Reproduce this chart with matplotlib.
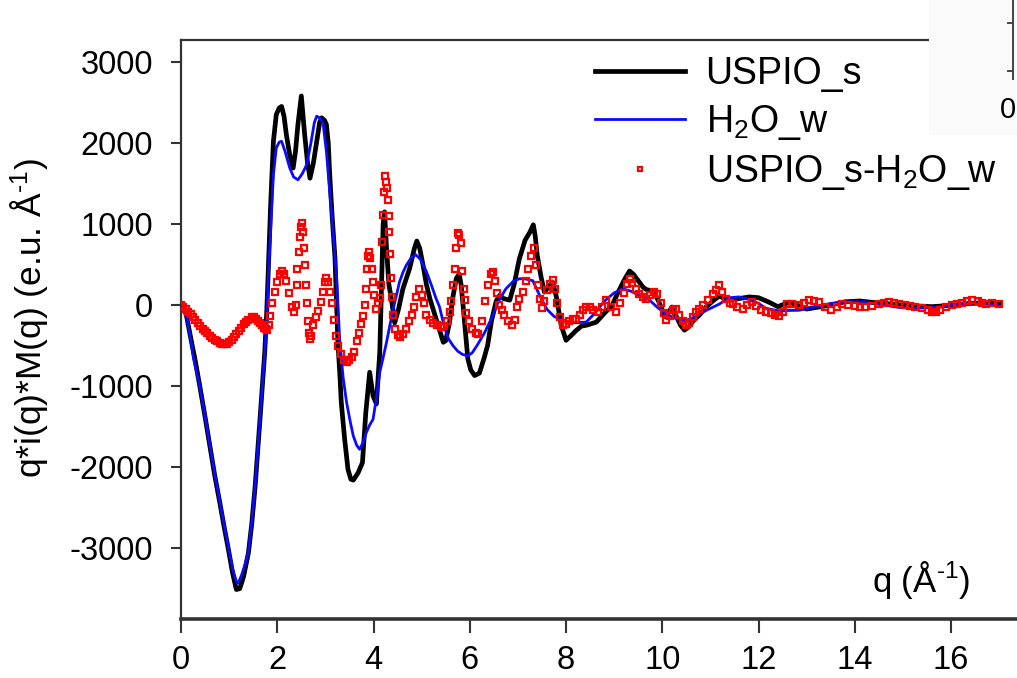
import numpy as np
import matplotlib
matplotlib.use('Agg')
import matplotlib.pyplot as plt

plt.rcParams['font.family'] = ['Liberation Sans', 'DejaVu Sans']
plt.rcParams['mathtext.fontset'] = 'custom'
plt.rcParams['mathtext.rm'] = 'Liberation Sans'
plt.rcParams['mathtext.it'] = 'Liberation Sans'
plt.rcParams['axes.unicode_minus'] = False

# USPIO_s (black line)
q_s = [0.05, 0.12, 0.2, 0.3, 0.39, 0.5, 0.6, 0.7, 0.81, 0.9, 0.98, 1.07, 1.15, 1.22, 1.3,
       1.4, 1.47, 1.54, 1.64, 1.74, 1.78, 1.81, 1.86, 1.92, 1.98, 2.04, 2.09, 2.14, 2.19,
       2.26, 2.33, 2.38, 2.43, 2.5, 2.57, 2.63, 2.68, 2.75, 2.82, 2.88, 2.92, 2.98, 3.02,
       3.06, 3.09, 3.14, 3.2, 3.26, 3.3, 3.33, 3.4, 3.47, 3.53, 3.58, 3.68, 3.77, 3.84,
       3.92, 3.99, 4.06, 4.13, 4.16, 4.2, 4.23, 4.27, 4.32, 4.37, 4.44, 4.52, 4.61, 4.75,
       4.85, 4.9, 4.96, 5.03, 5.1, 5.17, 5.3, 5.37, 5.45, 5.5, 5.58, 5.65, 5.72, 5.78,
       5.82, 5.86, 5.92, 5.96, 6.02, 6.1, 6.2, 6.3, 6.37, 6.45, 6.55, 6.62, 6.7, 6.83,
       6.92, 7.03, 7.15, 7.25, 7.32, 7.36, 7.4, 7.48, 7.55, 7.63, 7.72, 7.8, 7.9, 8.0,
       8.1, 8.2, 8.32, 8.42, 8.53, 8.63, 8.8, 8.96, 9.1, 9.22, 9.32, 9.4, 9.5, 9.6, 9.67,
       9.75, 9.83, 9.92, 10.0, 10.08, 10.14, 10.2, 10.3, 10.38, 10.46, 10.55, 10.65,
       10.77, 10.9, 11.05, 11.18, 11.3, 11.45, 11.6, 11.8, 12.0, 12.2, 12.4, 12.64, 12.8,
       13.0, 13.2, 13.5, 13.8, 14.1, 14.4, 14.8, 15.2, 15.6, 16.0, 16.4, 16.8, 17.0]
uspio_s = [0, -150, -400, -700, -1000, -1380, -1740, -2100, -2450, -2750, -3000, -3300,
           -3510, -3500, -3350, -3060, -2700, -2240, -1420, -580, -100, 370, 1200, 2020,
           2350, 2430, 2450, 2330, 2100, 1850, 1690, 1900, 2230, 2580, 2100, 1750, 1565,
           1750, 2020, 2250, 2310, 2280, 2230, 2000, 1610, 1100, 575, -460, -850, -1200,
           -1655, -2030, -2150, -2160, -2070, -1945, -1325, -830, -1120, -1220, -580, 80,
           1000, 1150, 700, 250, 80, -220, -50, 200, 450, 700, 790, 700, 490, 250, 80,
           -170, -300, -460, -440, -210, 100, 330, 380, 250, 0, -400, -665, -800, -870,
           -840, -650, -500, -200, 50, 120, 80, 60, 250, 570, 800, 900, 990, 850, 620, 350,
           160, 220, 285, 100, -250, -435, -380, -320, -260, -250, -230, -210, -100, 0,
           180, 320, 420, 380, 300, 220, 190, 180, 160, 50, -60, -150, -80, -25, -150, -250,
           -310, -270, -190, -125, -30, 50, 110, 80, 60, 80, 100, 90, 40, -20, 35, 0, -50,
           -30, 0, 40, 50, 30, 10, -10, -20, -5, 20, 25, 20]

# H2O_w (blue line)
q_w = [0.05, 0.12, 0.2, 0.26, 0.39, 0.5, 0.6, 0.7, 0.81, 0.9, 0.98, 1.07, 1.15, 1.19, 1.26,
       1.33, 1.4, 1.47, 1.54, 1.64, 1.74, 1.78, 1.81, 1.85, 1.92, 1.98, 2.04, 2.09, 2.16,
       2.26, 2.34, 2.43, 2.52, 2.61, 2.7, 2.77, 2.82, 2.88, 2.95, 3.02, 3.09, 3.16, 3.23,
       3.3, 3.37, 3.44, 3.52, 3.58, 3.65, 3.71, 3.78, 3.85, 3.92, 3.99, 4.06, 4.13, 4.2,
       4.27, 4.34, 4.41, 4.48, 4.54, 4.61, 4.68, 4.78, 4.88, 4.98, 5.1, 5.2, 5.3, 5.37,
       5.48, 5.56, 5.65, 5.75, 5.85, 5.96, 6.05, 6.15, 6.3, 6.48, 6.6, 6.75, 6.9, 7.03,
       7.17, 7.31, 7.45, 7.6, 7.75, 7.86, 8.0, 8.2, 8.42, 8.6, 8.8, 9.0, 9.18, 9.35, 9.52,
       9.7, 9.9, 10.1, 10.3, 10.5, 10.7, 10.9, 11.18, 11.39, 11.6, 11.8, 12.0, 12.15, 12.4,
       12.84, 13.2, 13.5, 13.88, 14.2, 14.6, 14.92, 15.3, 15.6, 16.0, 16.44, 16.8, 17.0]
h2o_w = [0, -150, -420, -660, -1000, -1370, -1730, -2080, -2430, -2720, -2970, -3250,
         -3410, -3430, -3330, -3200, -3050, -2680, -2230, -1410, -580, -200, 300, 780, 1610,
         1940, 2010, 2020, 1900, 1690, 1580, 1545, 1620, 1730, 2000, 2250, 2330, 2310, 2250,
         1900, 1400, 900, 370, -460, -900, -1200, -1450, -1615, -1730, -1780, -1700, -1575,
         -1480, -1410, -1150, -830, -650, -460, -250, -45, 130, 285, 400, 490, 580, 620,
         560, 410, 250, 80, -20, -290, -420, -500, -570, -610, -625, -590, -500, -350, -130,
         50, 200, 290, 325, 320, 300, 120, -50, -140, -170, -200, -220, -210, -100, 50, 150,
         200, 170, 120, 80, -30, -120, -170, -190, -140, -70, 10, 90, 100, 70, 20, -40, -70,
         -65, -20, 20, 40, 40, 0, -30, -40, -30, 0, 30, 10, -10]

# USPIO_s-H2O_w (red squares)
q_d = [0.0, 0.05, 0.1, 0.15, 0.2, 0.25, 0.3, 0.35, 0.4, 0.45, 0.5, 0.55, 0.6, 0.65, 0.7,
       0.75, 0.8, 0.85, 0.9, 0.95, 1.0, 1.05, 1.1, 1.15, 1.2, 1.25, 1.3, 1.35, 1.4, 1.47,
       1.51, 1.55, 1.6, 1.64, 1.68, 1.72, 1.76, 1.79, 1.82, 1.85, 1.9, 1.95, 2.0, 2.05,
       2.1, 2.15, 2.19, 2.24, 2.3, 2.35,
       2.38, 2.4, 2.42, 2.45, 2.47, 2.5, 2.52, 2.54, 2.56, 2.58, 2.6, 2.62, 2.64, 2.66,
       2.68, 2.71, 2.75, 2.8, 2.85, 2.9, 2.95, 2.99, 3.02, 3.05, 3.09, 3.13, 3.17, 3.22,
       3.27, 3.32, 3.38, 3.44, 3.5, 3.55, 3.6, 3.65, 3.7, 3.75, 3.79, 3.82, 3.84, 3.86,
       3.88, 3.9, 3.93, 3.96, 3.99, 4.02, 4.05, 4.09, 4.13, 4.16, 4.18, 4.2, 4.22, 4.24,
       4.26, 4.28, 4.3, 4.32, 4.33, 4.34, 4.36, 4.38, 4.41, 4.45, 4.5, 4.56, 4.62, 4.68,
       4.74, 4.79, 4.84, 4.89, 4.95, 5.0, 5.04, 5.1, 5.17, 5.24, 5.32, 5.4, 5.47, 5.53,
       5.58, 5.62, 5.66, 5.69, 5.72, 5.75, 5.78, 5.81, 5.84, 5.87, 5.9, 5.93, 5.98, 6.05,
       6.12, 6.18, 6.25, 6.32, 6.38, 6.44, 6.48, 6.52, 6.56, 6.61, 6.66, 6.72, 6.8, 6.87,
       6.93, 6.98, 7.03, 7.1, 7.16, 7.22, 7.28, 7.34, 7.38, 7.42, 7.46, 7.5, 7.55, 7.6,
       7.66, 7.72, 7.77, 7.82, 7.88, 7.93, 8.0, 8.07, 8.14, 8.2, 8.28, 8.35, 8.42, 8.49,
       8.57, 8.66, 8.74, 8.83, 8.93, 9.04, 9.12, 9.2, 9.27, 9.32, 9.38, 9.45, 9.52, 9.59,
       9.66, 9.75, 9.83, 9.9, 9.97, 10.03, 10.08, 10.15, 10.22, 10.28, 10.35, 10.42, 10.49,
       10.56, 10.63, 10.7, 10.77, 10.85, 10.95, 11.05, 11.12, 11.18, 11.25, 11.32, 11.4,
       11.46, 11.55, 11.67, 11.77, 11.87, 11.95, 12.05, 12.15, 12.25, 12.35, 12.43, 12.5,
       12.6, 12.7, 12.84, 12.95, 13.05, 13.15, 13.26, 13.38, 13.5, 13.62, 13.74, 13.85,
       14.0, 14.1, 14.22, 14.35, 14.5, 14.6, 14.71, 14.82, 14.92, 15.05, 15.15, 15.26,
       15.4, 15.52, 15.6, 15.68, 15.78, 15.9, 16.02, 16.12, 16.22, 16.34, 16.44, 16.55,
       16.65, 16.72, 16.85, 17.0]
diff = [0, -25, -50, -80, -110, -145, -180, -220, -255, -290, -320, -350, -380, -405, -430,
        -450, -470, -478, -480, -475, -460, -435, -400, -360, -320, -280, -240, -205, -180,
        -150, -150, -170, -195, -220, -250, -280, -300, -310, -250, -140, 20, 160, 280, 380,
        415, 380, 300, 150, -30, -80,
        0, 245, 450, 660, 840, 960, 1010, 900, 700, 500, 250, 20, -200, -350,
        -420, -380, -250, -150, -70, 40, 160, 280, 330, 280, 160, 30, -180, -380, -500,
        -600, -680, -705, -680, -640, -580, -450, -340, -230, -130, 0, 200, 450, 600, 655,
        580, 450, 285, 120, -45, 20, 90, 250, 780, 1110, 1400, 1590, 1520, 1440, 1300, 1100,
        900, 630, 330, 100, -125, -290, -370, -395, -360, -295, -200, -120, -20, 100, 200,
        120, 20, -120, -190, -220, -250, -270, -260, -200, -80, 50, 250, 450, 700, 890, 860,
        760, 420, 200, 60, -100, -200, -290, -340, -355, -200, 50, 250, 380, 410, 300, 150,
        0, -60, -120, -200, -250, -180, -20, 80, 160, 300, 450, 600, 700, 500, 250, 80, -40,
        50, 180, 260, 305, 200, 20, -150, -250, -230, -200, -170, -170, -120, -60, -30, -25,
        -60, -85, -20, 60, -20, -85, 20, 150, 260, 325, 270, 200, 140, 100, 80, 120, 160,
        130, 20, -100, -190, -130, -60, -45, -120, -200, -250, -220, -150, -80, -45, 0, 60,
        130, 190, 245, 160, 80, 30, 15, -20, -45, 0, 35, -10, -60, -85, -100, -120, -130,
        -80, 15, 10, -5, 30, 60, 45, 35, -20, -65, -20, 15, 0, -15, -20, -25, -10, 10, 25,
        35, 20, 15, -5, -15, -25, -40, -60, -80, -85, -60, -30, -5, 10, 25, 45, 60, 50, 25,
        15, 25, 15]

xticks = [0, 2, 4, 6, 8, 10, 12, 14, 16]
yticks = [-3000, -2000, -1000, 0, 1000, 2000, 3000]

fig = plt.figure(figsize=(10.17, 6.78), dpi=100)
ax = fig.add_axes([181 / 1017, 1 - 619 / 678, 1 - 181 / 1017, 579 / 678])

ax.plot(q_s, uspio_s, color='black', lw=3.4, label='USPIO_s', zorder=2)
ax.plot(q_w, h2o_w, color='#0a0aff', lw=2.0, label='H$_2$O_w', zorder=3)
ax.plot(q_d, diff, ls='none', marker='s', ms=4.2, mfc='none', mec='red', mew=1.6,
        label='USPIO_s-H$_2$O_w', zorder=4)

ax.set_xlim(0, 17.37)
ax.set_ylim(-3874, 3270)
ax.set_xticks(xticks)
ax.set_yticks(yticks)
ax.tick_params(axis='both', labelsize=23.5, colors='black')
ax.tick_params(axis='x', direction='out', length=10, width=1.5, pad=9, color='#333333')
ax.tick_params(axis='y', direction='out', length=7, width=1.5, pad=13, color='#333333')

ax.spines['right'].set_visible(False)
for s in ['left', 'top']:
    ax.spines[s].set_color('#333333')
    ax.spines[s].set_linewidth(1.6)
ax.spines['bottom'].set_color('#333333')
ax.spines['bottom'].set_linewidth(2.6)

ax.set_ylabel(r'q*i(q)*M(q) (e.u. Å$^{\text{-}1}$)', fontsize=25.5)
ax.yaxis.set_label_coords(-0.155, 0.52)
ax.text(0.885, 0.068, r'q (Å$^{\text{-}1}$)', transform=ax.transAxes, fontsize=25,
        ha='center', va='center')

ax.legend(loc='upper left', bbox_to_anchor=(595 / 1017, 1 - 56 / 678),
          bbox_transform=fig.transFigure, frameon=False, fontsize=27,
          handlelength=2.4, handletextpad=0.55, labelspacing=0.3,
          borderpad=0, borderaxespad=0, numpoints=1, markerscale=0.8)

# fragment of a neighbouring panel in the top-right corner
inset = fig.add_axes([929 / 1017, 1 - 135 / 678, 88 / 1017, 135 / 678])
inset.set_facecolor('#fafafa')
inset.set_xlim(0, 88)
inset.set_ylim(135, 0)
for s in inset.spines.values():
    s.set_visible(False)
inset.set_xticks([])
inset.set_yticks([])
inset.plot([84, 84], [0, 79], color='#444444', lw=1.4)
inset.plot([79, 84], [23, 23], color='#444444', lw=1.4)
inset.plot([79, 84], [71, 71], color='#444444', lw=1.4)
inset.text(87, 110, '0', fontsize=21, ha='right', va='center')

fig.savefig('out.png', dpi=100)
